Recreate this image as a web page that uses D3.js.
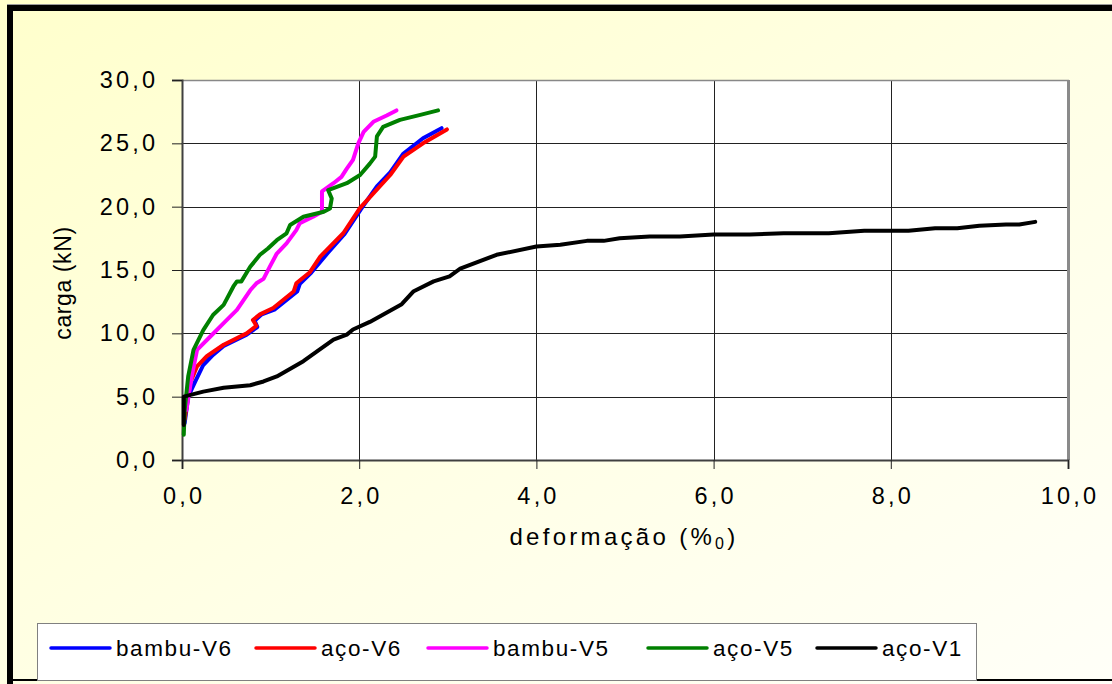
<!DOCTYPE html>
<html>
<head>
<meta charset="utf-8">
<script src="https://cdn.jsdelivr.net/npm/d3@7/dist/d3.min.js"></script>
<style>
  html, body { margin: 0; padding: 0; background: #fff; }
  svg { display: block; font-family: Arial, "Liberation Sans", sans-serif; }
</style>
</head>
<body>
<svg id="chart" width="1112" height="684"></svg>
<script>
// ---------- data ----------
const seriesNames = ["bambu-V6", "aço-V6", "bambu-V5", "aço-V5", "aço-V1"];
const seriesColors = ["#0000FF", "#FF0000", "#FF00FF", "#008000", "#000000"];

const bambuV6 = [[0.03,2.9],[0.07,5.0],[0.15,6.2],[0.24,7.5],[0.35,8.3],[0.47,9.0],[0.73,9.9],[0.85,10.5],[0.82,11.0],[0.9,11.5],[1.05,11.9],[1.3,13.3],[1.33,13.9],[1.46,14.8],[1.64,16.3],[1.83,17.8],[2.02,19.8],[2.2,21.6],[2.35,22.7],[2.5,24.2],[2.72,25.4],[2.93,26.2]];
const acoV6 = [[0.03,3.2],[0.09,6.05],[0.17,7.4],[0.28,8.2],[0.47,9.1],[0.73,10.0],[0.84,10.6],[0.8,11.05],[0.88,11.5],[1.03,12.0],[1.26,13.3],[1.29,13.95],[1.44,14.8],[1.56,16.05],[1.82,17.9],[2.01,19.9],[2.16,21.05],[2.35,22.5],[2.5,23.95],[2.72,25.0],[2.99,26.1]];
const bambuV5 = [[0.05,3.95],[0.11,6.6],[0.17,8.7],[0.32,9.75],[0.47,10.8],[0.62,11.85],[0.77,13.4],[0.84,13.95],[0.92,14.3],[0.99,15.25],[1.07,16.3],[1.18,17.1],[1.29,18.15],[1.33,18.7],[1.48,19.2],[1.58,19.6],[1.58,21.2],[1.71,21.85],[1.8,22.35],[1.86,23.0],[1.93,23.7],[1.99,25.0],[2.05,25.9],[2.16,26.7],[2.31,27.2],[2.42,27.6]];
const acoV5 = [[0.02,2.0],[0.03,3.95],[0.07,6.6],[0.13,8.7],[0.24,10.25],[0.35,11.45],[0.47,12.25],[0.58,13.7],[0.62,14.1],[0.67,14.1],[0.77,15.25],[0.88,16.2],[0.97,16.7],[1.07,17.35],[1.18,17.9],[1.22,18.55],[1.37,19.2],[1.6,19.6],[1.67,19.85],[1.69,20.65],[1.65,21.3],[1.86,21.85],[2.01,22.5],[2.12,23.4],[2.18,23.95],[2.2,25.55],[2.27,26.3],[2.46,26.85],[2.69,27.25],[2.89,27.6]];
const acoV1 = [[0.02,2.76],[0.02,5.0],[0.24,5.4],[0.47,5.7],[0.77,5.9],[0.92,6.2],[1.07,6.6],[1.37,7.8],[1.52,8.55],[1.71,9.5],[1.86,9.9],[1.93,10.3],[2.12,10.9],[2.48,12.3],[2.61,13.3],[2.84,14.1],[3.02,14.5],[3.14,15.1],[3.55,16.2],[4.0,16.85],[4.27,17.0],[4.57,17.3],[4.76,17.3],[4.94,17.5],[5.28,17.65],[5.62,17.65],[6.0,17.8],[6.41,17.8],[6.79,17.9],[7.3,17.9],[7.7,18.1],[8.2,18.1],[8.5,18.3],[8.75,18.3],[9.0,18.5],[9.3,18.6],[9.45,18.6],[9.63,18.8]];
const allSeries = [bambuV6, acoV6, bambuV5, acoV5, acoV1];

const xTicks = [0, 2, 4, 6, 8, 10];
const yTicks = [0, 5, 10, 15, 20, 25, 30];
const fmt = v => v.toFixed(1).replace(".", ",");

// ---------- layout ----------
const svg = d3.select("#chart");
const W = 1112, H = 684;
const plot = { left: 182, right: 1068, top: 80, bottom: 460 };

const defs = svg.append("defs");
const grad = defs.append("linearGradient").attr("id", "bg")
  .attr("x1", "0").attr("y1", "0").attr("x2", "1").attr("y2", "1");
grad.append("stop").attr("offset", "0").attr("stop-color", "#FFFFCC");
grad.append("stop").attr("offset", "0.55").attr("stop-color", "#FFFFE6");
grad.append("stop").attr("offset", "1").attr("stop-color", "#FFFFF8");

svg.append("rect").attr("x", 0).attr("y", 0).attr("width", W).attr("height", H).attr("fill", "url(#bg)");
// outer frame
svg.append("rect").attr("x", 7).attr("y", 4).attr("width", W - 7).attr("height", 1).attr("fill", "#999");
svg.append("rect").attr("x", 7).attr("y", 5).attr("width", W - 7).attr("height", 6).attr("fill", "#000");
svg.append("rect").attr("x", 7).attr("y", 5).attr("width", 6).attr("height", H - 5).attr("fill", "#000");
svg.append("rect").attr("x", 7).attr("y", 679).attr("width", W - 7).attr("height", 2).attr("fill", "#000");

const x = d3.scaleLinear().domain([0, 10]).range([plot.left, plot.right]);
const y = d3.scaleLinear().domain([0, 30]).range([plot.bottom, plot.top]);

// plot area
svg.append("rect").attr("x", plot.left).attr("y", plot.top)
  .attr("width", plot.right - plot.left).attr("height", plot.bottom - plot.top).attr("fill", "#fff");

// gridlines
const grid = svg.append("g");
grid.selectAll(".hg").data(yTicks.slice(1, -1)).join("line")
  .attr("x1", plot.left).attr("x2", plot.right)
  .attr("y1", d => Math.round(y(d)) + 0.5).attr("y2", d => Math.round(y(d)) + 0.5)
  .attr("stroke", "#222").attr("stroke-width", 1);
grid.selectAll(".vg").data(xTicks.slice(1, -1)).join("line")
  .attr("y1", plot.top).attr("y2", plot.bottom)
  .attr("x1", d => Math.round(x(d)) + 0.5).attr("x2", d => Math.round(x(d)) + 0.5)
  .attr("stroke", "#222").attr("stroke-width", 1);

// plot border (top / right gray)
svg.append("line").attr("x1", plot.left).attr("x2", plot.right + 1).attr("y1", plot.top + 0.5).attr("y2", plot.top + 0.5)
  .attr("stroke", "#888").attr("stroke-width", 1.5);
svg.append("line").attr("x1", plot.right + 0.5).attr("x2", plot.right + 0.5).attr("y1", plot.top).attr("y2", plot.bottom)
  .attr("stroke", "#8a8a8a").attr("stroke-width", 3);

// axes
const yAxis = d3.axisLeft(y).tickValues(yTicks).tickFormat(fmt).tickSize(10).tickPadding(17);
const xAxis = d3.axisBottom(x).tickValues(xTicks).tickFormat(fmt).tickSize(9).tickPadding(19);

const gy = svg.append("g").attr("transform", `translate(${plot.left},0)`).call(yAxis);
const gx = svg.append("g").attr("transform", `translate(0,${plot.bottom})`).call(xAxis);
[gy, gx].forEach(g => {
  g.select(".domain").attr("stroke", "#404040").attr("stroke-width", 2);
  g.selectAll(".tick line").attr("stroke", "#222").attr("stroke-width", 1);
  g.selectAll(".tick text").attr("font-size", 23.5).attr("fill", "#000")
    .attr("font-family", "Arial, 'Liberation Sans', sans-serif").style("letter-spacing", "3.2px");
});
gy.selectAll(".tick text").attr("dx", "3.2px");
gx.selectAll(".tick text").attr("dx", "1.6px").attr("dy", "0.68em");

// series lines
const line = d3.line().x(d => x(d[0])).y(d => y(d[1]));
svg.append("g").selectAll("path").data(allSeries).join("path")
  .attr("d", line).attr("fill", "none")
  .attr("stroke", (d, i) => seriesColors[i])
  .attr("stroke-width", 4).attr("stroke-linejoin", "round").attr("stroke-linecap", "round");

// axis titles
const xt = svg.append("text").attr("x", 624).attr("y", 545).attr("text-anchor", "middle")
  .attr("font-size", 24).style("letter-spacing", "3.3px");
xt.append("tspan").text("deformação (%");
xt.append("tspan").attr("font-size", 16).attr("dy", 4).text("0");
xt.append("tspan").attr("dy", -4).text(")");

svg.append("text").attr("transform", "translate(71,283) rotate(-90)").attr("text-anchor", "middle")
  .attr("font-size", 23).style("letter-spacing", "0.6px").text("carga (kN)");

// legend
const lg = svg.append("g");
lg.append("rect").attr("x", 37.5).attr("y", 623.5).attr("width", 939).attr("height", 57)
  .attr("fill", "#fff").attr("stroke", "#808080").attr("stroke-width", 1);
const legX = [51, 256, 428, 648, 817];
const items = lg.selectAll(".item").data(seriesNames).join("g")
  .attr("transform", (d, i) => `translate(${legX[i]},648)`);
items.append("line").attr("x1", 0).attr("x2", 59).attr("y1", 0).attr("y2", 0)
  .attr("stroke", (d, i) => seriesColors[i]).attr("stroke-width", 3.5).attr("stroke-linecap", "round");
items.append("text").attr("x", 65).attr("y", 0).attr("dy", "0.36em")
  .attr("font-size", 22.5).style("letter-spacing", "1.6px").text(d => d);
</script>
</body>
</html>
